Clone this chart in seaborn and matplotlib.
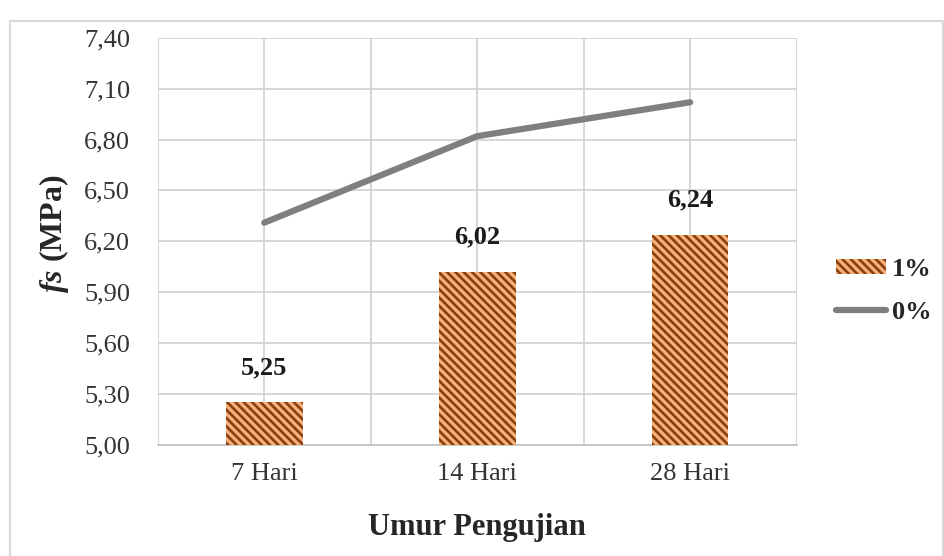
import matplotlib

matplotlib.use("Agg")
import matplotlib.pyplot as plt
import matplotlib.patches as mpatches
import matplotlib.lines as mlines
import numpy as np
import pandas as pd
import seaborn as sns

# data
umur = ["7 Hari", "14 Hari", "28 Hari"]
fs_1pct = [5.25, 6.02, 6.24]
fs_0pct = [6.31, 6.82, 7.02]
yticks = [5.00, 5.30, 5.60, 5.90, 6.20, 6.50, 6.80, 7.10, 7.40]

ORANGE, BROWN, GREY, GRID = "#f8b07a", "#8a3e0e", "#7f7f7f", "#d0d0d0"
HATCH = "\\\\\\\\"

sns.set_theme(style="white")
plt.rcParams["font.family"] = ["Liberation Serif", "DejaVu Serif"]
plt.rcParams["mathtext.fontset"] = "custom"
plt.rcParams["mathtext.it"] = "Liberation Serif:italic:bold"
plt.rcParams["mathtext.rm"] = "Liberation Serif:bold"
plt.rcParams["hatch.linewidth"] = 1.9

df = pd.DataFrame({"umur": umur, "1%": fs_1pct, "0%": fs_0pct})

fig, ax = plt.subplots(figsize=(9.45, 5.56), dpi=100)
fig.subplots_adjust(left=0.167, right=0.843, top=0.932, bottom=0.2)

sns.barplot(data=df, x="umur", y="1%", color=ORANGE, width=0.36, ax=ax,
            saturation=1, zorder=3)
for p in ax.patches:
    p.set_hatch(HATCH)
    p.set_edgecolor(BROWN)
    p.set_linewidth(0)

sns.lineplot(data=df, x="umur", y="0%", color=GREY, lw=4.5, sort=False, ax=ax,
             zorder=4, solid_capstyle="round")

for i, v in enumerate(fs_1pct):
    ax.annotate(f"{v:.2f}".replace(".", ","), (i, v), xytext=(0, 25),
                textcoords="offset points", ha="center", va="center",
                fontsize=19, fontweight="bold", color="#1a1a1a")

ax.set_ylim(5.0, 7.4)
ax.set_xlim(-0.5, 2.5)
ax.set_yticks(yticks)
ax.set_yticklabels([f"{t:.2f}".replace(".", ",") for t in yticks], fontsize=19)
ax.set_xticks(range(len(umur)))
ax.set_xticklabels(umur, fontsize=19)
ax.set_xticks([-0.5, 0.5, 1.5, 2.5], minor=True)
ax.tick_params(axis="y", which="both", length=0, pad=20, colors="#333333")
ax.tick_params(axis="x", which="both", length=0, pad=13, colors="#333333")
ax.grid(True, axis="y", color=GRID, lw=1.2, zorder=0)
ax.grid(True, axis="x", which="both", color=GRID, lw=1.2, zorder=0)
ax.set_axisbelow(True)
for s in ["top", "right", "left"]:
    ax.spines[s].set_visible(False)
ax.spines["bottom"].set_color("#bfbfbf")
ax.spines["bottom"].set_linewidth(1.2)

ax.set_xlabel("Umur Pengujian", fontsize=22, fontweight="bold", labelpad=20)
ax.set_ylabel("$fs$ (MPa)", fontsize=23, fontweight="bold")
ax.yaxis.set_label_coords(-0.136, 0.52)

h_bar = mpatches.Patch(facecolor=ORANGE, edgecolor=BROWN, hatch=HATCH, lw=0)
h_line = mlines.Line2D([], [], color=GREY, lw=4.5, solid_capstyle="round")
ax.legend([h_bar, h_line], ["1%", "0%"], loc="center left",
          bbox_to_anchor=(1.025, 0.378), frameon=False, handlelength=1.9,
          handleheight=0.5, handletextpad=0.2, labelspacing=0.75,
          prop={"size": 19, "weight": "bold"})

fig.patches.append(mpatches.Rectangle((0.011, -0.01), 0.987, 0.972,
                                      transform=fig.transFigure, fill=False,
                                      edgecolor="#d9d9d9", lw=1.5))

fig.savefig("out.png", dpi=100)
